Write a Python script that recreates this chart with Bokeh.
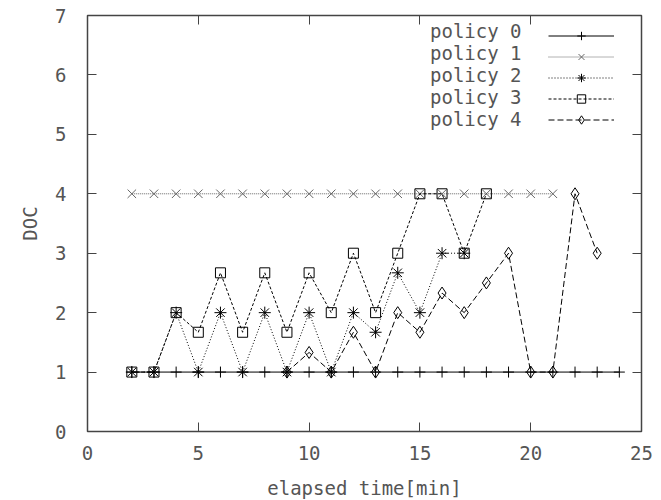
from bokeh.plotting import figure
from bokeh.models import Range1d, FixedTicker, LinearAxis, Legend, LegendItem, CustomLabelingPolicy
from bokeh.embed import file_html
from bokeh.resources import INLINE

# ---- data ----
x0 = list(range(2, 25))
y0 = [1] * len(x0)

x1 = list(range(2, 22))
y1 = [4] * len(x1)

x2 = list(range(2, 18))
y2 = [1, 1, 2, 1, 2, 1, 2, 1, 2, 1, 2, 1.67, 2.67, 2, 3, 3]

x3 = list(range(2, 19))
y3 = [1, 1, 2, 1.67, 2.67, 1.67, 2.67, 1.67, 2.67, 2, 3, 2, 3, 4, 4, 3, 4]

x4 = list(range(9, 24))
y4 = [1, 1.33, 1, 1.67, 1, 2, 1.67, 2.33, 2, 2.5, 3, 1, 1, 4, 3]

x_ticks = [0, 5, 10, 15, 20, 25]
y_ticks = [0, 1, 2, 3, 4, 5, 6, 7]
labels = ["policy 0", "policy 1", "policy 2", "policy 3", "policy 4"]

FONT = "DejaVu Sans Mono"
TXT = "#555555"
FS = "19px"

p = figure(frame_width=554, frame_height=416,
           min_border_left=87, min_border_right=12,
           min_border_top=15, min_border_bottom=67,
           x_range=Range1d(0, 25), y_range=Range1d(0, 7),
           output_backend="svg", toolbar_location=None,
           background_fill_color="white", border_fill_color="white")
p.grid.visible = False
p.outline_line_color = "#444444"
p.outline_line_width = 1.5

for ax in (p.xaxis[0], p.yaxis[0]):
    ax.axis_line_color = None
    ax.major_tick_in = 9
    ax.major_tick_out = 0
    ax.minor_tick_line_color = None
    ax.major_tick_line_color = "#444444"
    ax.major_label_text_font = FONT
    ax.major_label_text_font_size = FS
    ax.major_label_text_color = TXT
    ax.axis_label_text_font = FONT
    ax.axis_label_text_font_size = FS
    ax.axis_label_text_color = TXT
    ax.axis_label_text_font_style = "normal"

p.xaxis[0].ticker = FixedTicker(ticks=x_ticks)
p.yaxis[0].ticker = FixedTicker(ticks=y_ticks)
p.xaxis[0].axis_label = "elapsed time[min]"
p.yaxis[0].axis_label = "DOC"
p.xaxis[0].major_label_standoff = 14
p.xaxis[0].axis_label_standoff = 14
p.yaxis[0].major_label_standoff = 21
p.yaxis[0].axis_label_standoff = 11

# mirrored ticks (no labels)
hide_all = CustomLabelingPolicy(code="""
for (const i of indices) { indices.unset(i) }
return indices
""")
for loc, tk in (("above", x_ticks), ("right", y_ticks)):
    ax = LinearAxis(ticker=FixedTicker(ticks=tk), major_label_policy=hide_all)
    ax.axis_line_color = None
    ax.major_tick_in = 9
    ax.major_tick_out = 0
    ax.minor_tick_line_color = None
    ax.major_tick_line_color = "#444444"
    ax.major_label_text_font_size = "1px"
    ax.major_label_standoff = 0
    p.add_layout(ax, loc)

# policy 0
r0l = p.line(x0, y0, line_color="black", line_width=1)
r0m = p.scatter(x0, y0, marker="cross", size=11, line_color="black", line_width=1)
# policy 1
r1l = p.line(x1, y1, line_color="#666666", line_width=1, line_dash="1 1")
r1m = p.scatter(x1, y1, marker="x", size=12, line_color="#666666", line_width=1)
# policy 2
r2l = p.line(x2, y2, line_color="black", line_width=1, line_dash="1 2")
r2m = p.scatter(x2, y2, marker="asterisk", size=12, line_color="black", line_width=1)
# policy 3
r3l = p.line(x3, y3, line_color="black", line_width=1, line_dash="3 2")
r3m = p.scatter(x3, y3, marker="square", size=10, line_color="black", fill_color=None, line_width=1)
# policy 4
r4l = p.line(x4, y4, line_color="black", line_width=1, line_dash="6 3")
r4m = p.scatter(x4, y4, marker="diamond", size=12, line_color="black", fill_color=None, line_width=1)

lines = [r0l, r1l, r2l, r3l, r4l]
marks = [r0m, r1m, r2m, r3m, r4m]

common = dict(orientation="vertical", glyph_height=21, label_height=21,
              spacing=0, padding=0, margin=0,
              border_line_color=None, background_fill_alpha=0,
              label_text_font=FONT, label_text_color=TXT)

# legend texts (left), drawn with zero-width samples of the lines only
legend_txt = Legend(items=[LegendItem(label=lab, renderers=[ln]) for lab, ln in zip(labels, lines)],
                    location=(343, 301), glyph_width=0, label_standoff=0,
                    label_text_font_size="19px", **common)
# legend samples (right of the texts)
legend_smp = Legend(items=[LegendItem(label="", renderers=[ln, mk]) for ln, mk in zip(lines, marks)],
                    location=(461, 301), glyph_width=66, label_standoff=0,
                    label_text_font_size="10px", **common)
p.add_layout(legend_txt)
p.add_layout(legend_smp)

open("out.html", "w").write(file_html(p, INLINE))
